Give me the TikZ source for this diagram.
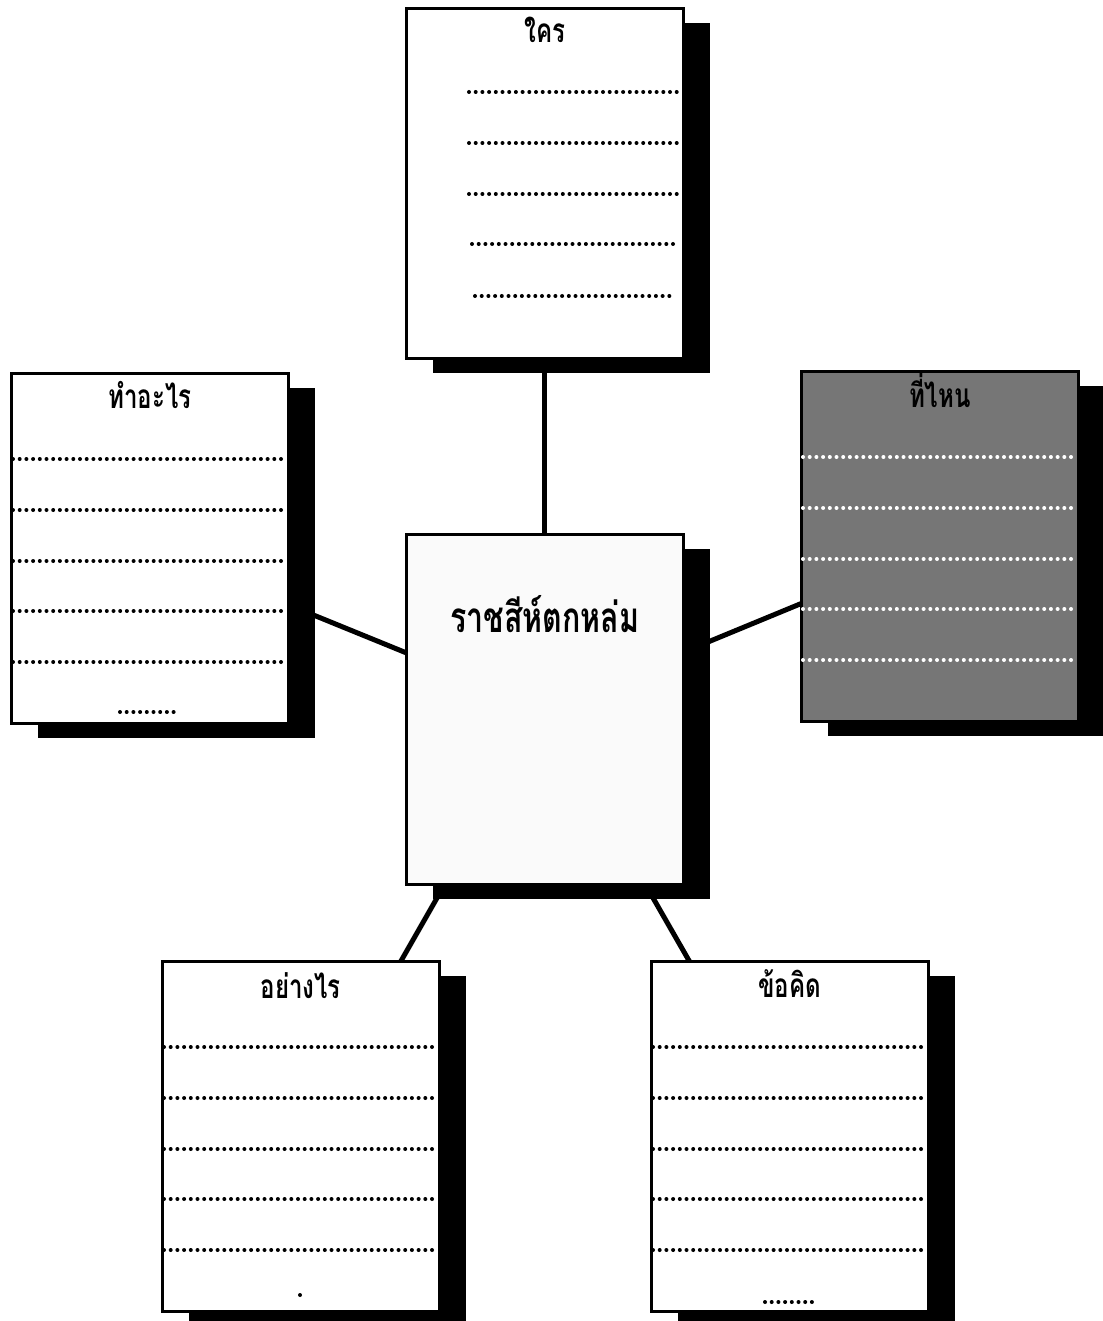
\documentclass[tikz,border=0pt]{standalone}
\usepackage{fontspec}
\newfontfamily\thaifont[Script=Thai,FakeStretch=0.72]{Loma}
\usetikzlibrary{shadows,backgrounds}

\begin{document}
\begin{tikzpicture}[
    card/.style={
        draw=black, fill=white, line width=1.5pt,
        minimum width=5.54cm, minimum height=7cm,
        anchor=north west, inner sep=0pt,
        drop shadow={shadow xshift=0.54cm, shadow yshift=-0.3cm,
                     fill=black, opacity=1}
    },
    cardtitle/.style={font=\thaifont\bfseries\fontsize{19}{22}\selectfont, anchor=base},
    dotrow/.style={line width=0.08cm, line cap=round, dash pattern=on 0pt off 0.134cm},
    link/.style={line width=0.1cm}
]

\definecolor{WhereFill}{RGB}{118,118,118}
\definecolor{StoryFill}{RGB}{250,250,250}

\useasboundingbox (0,0) rectangle (22.04,-26.42);

% ── Quadros (x,y no canto superior esquerdo) ─────────────────
\node[card] (who)     at (8.10, -0.14)  {};
\node[card] (what)    at (0.20, -7.44)  {};
\node[card, fill=WhereFill] (where) at (16.00, -7.40) {};
\node[card, fill=StoryFill] (story) at (8.10, -10.66) {};
\node[card] (how)     at (3.22, -19.20) {};
\node[card] (thought) at (13.00, -19.20) {};

% ── Títulos ──────────────────────────────────────────────────
\node[cardtitle] (who-title)     at ([yshift=-0.72cm]who.north)     {ใคร};
\node[cardtitle] (what-title)    at ([yshift=-0.72cm]what.north)    {ทำอะไร};
\node[cardtitle] (where-title)   at ([yshift=-0.74cm]where.north)   {ที่ไหน};
\node[cardtitle] (how-title)     at ([yshift=-0.76cm]how.north)     {อย่างไร};
\node[cardtitle] (thought-title) at ([yshift=-0.74cm]thought.north) {ข้อคิด};
\node[cardtitle, font=\thaifont\bfseries\fontsize{24}{28}\selectfont]
    (story-title) at ([yshift=-1.98cm]story.north) {ราชสีห์ตกหล่ม};

% ── Linhas pontilhadas ───────────────────────────────────────
\draw[dotrow] ([xshift=1.28cm, yshift=-1.70cm]who.north west) -- ([xshift=-0.12cm, yshift=-1.70cm]who.north east);
\draw[dotrow] ([xshift=1.28cm, yshift=-2.72cm]who.north west) -- ([xshift=-0.12cm, yshift=-2.72cm]who.north east);
\draw[dotrow] ([xshift=1.28cm, yshift=-3.74cm]who.north west) -- ([xshift=-0.12cm, yshift=-3.74cm]who.north east);
\draw[dotrow] ([xshift=1.34cm, yshift=-4.74cm]who.north west) -- ([xshift=-0.20cm, yshift=-4.74cm]who.north east);
\draw[dotrow] ([xshift=1.40cm, yshift=-5.78cm]who.north west) -- ([xshift=-0.26cm, yshift=-5.78cm]who.north east);

\foreach \crd in {what, how, thought}
  \foreach \row in {1.74, 2.76, 3.78, 4.78, 5.80}
    \draw[dotrow] ([xshift=0.06cm, yshift=-\row cm]\crd.north west) -- ([xshift=-0.06cm, yshift=-\row cm]\crd.north east);

\foreach \row in {1.74, 2.76, 3.78, 4.78, 5.80}
  \draw[dotrow, white!85] ([xshift=0.06cm, yshift=-\row cm]where.north west) -- ([xshift=-0.06cm, yshift=-\row cm]where.north east);

\draw[dotrow] ([xshift=2.20cm, yshift=-6.80cm]what.north west) -- ([xshift=3.36cm, yshift=-6.80cm]what.north west);
\draw[dotrow] ([xshift=2.30cm, yshift=-6.84cm]thought.north west) -- ([xshift=3.26cm, yshift=-6.84cm]thought.north west);
\fill ([xshift=2.78cm, yshift=-6.70cm]how.north west) circle (0.04cm);

% ── Ligações ao centro ───────────────────────────────────────
\begin{pgfonlayer}{background}
\draw[link] (who.center) -- (story.center);
\draw[link] (what.center) -- (story.center);
\draw[link] (where.center) -- (story.center);
\draw[link] (how.center) -- (story.center);
\draw[link] (thought.center) -- (story.center);
\end{pgfonlayer}

\end{tikzpicture}
\end{document}
